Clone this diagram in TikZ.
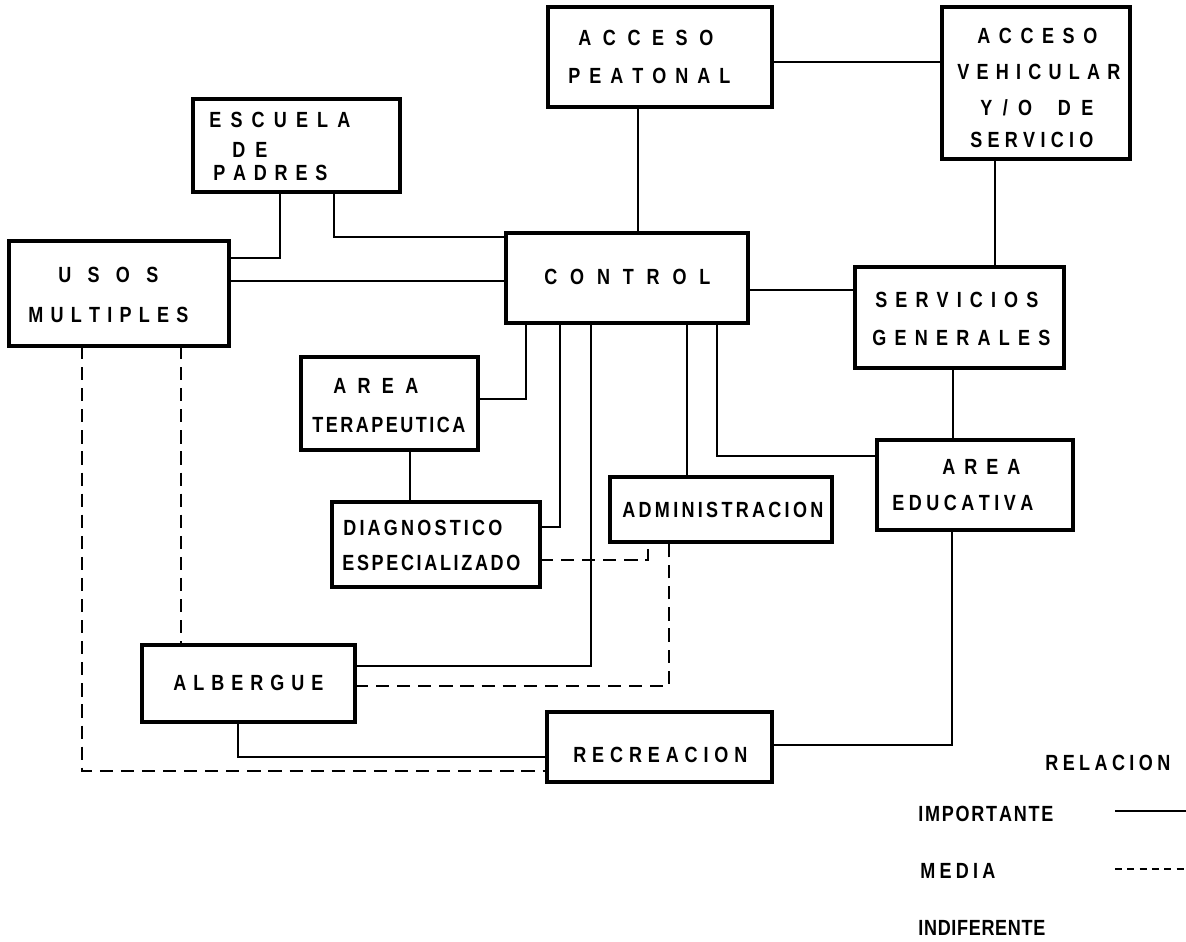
\documentclass[tikz,border=0pt]{standalone}
\usepackage{fontspec}
\newfontfamily\lblfont{Liberation Sans}[FakeStretch=0.82]
\newdimen\pxu \pxu=0.02cm
\makeatletter
\newcommand\spr[2]{\makebox[#1\pxu][s]{\@tfor\sprch:=#2\do{\sprch\hfil}\unskip}}
\makeatother
\newcommand\bx[5]{\node[box, minimum width={(#4-#2)*0.02cm}, minimum height={(#5-#3)*0.02cm}] (#1) at ({(#2+#4)/2},{(#3+#5)/2}) {};}
\tikzset{
  box/.style={draw, line width=1.8pt, inner sep=0pt, outer sep=0pt},
  lbl/.style={inner sep=0pt, anchor=west, font=\lblfont\bfseries\fontsize{12.5}{14}\selectfont},
  con/.style={line width=1.2pt},
  med/.style={line width=1.3pt, dash pattern=on 7.5pt off 4.5pt},
  legmed/.style={line width=1.3pt, dash pattern=on 4pt off 3pt}
}
\begin{document}
\begin{tikzpicture}[x=0.02cm, y=-0.02cm]
\useasboundingbox (0,0) rectangle (1186,941);
% boxes
\bx{peat}{548}{7}{772}{107}
\bx{veh}{942}{7}{1130}{159}
\bx{esc}{193}{99}{400}{192}
\bx{usos}{9}{241}{229}{346}
\bx{ctrl}{506}{233}{748}{323}
\bx{serv}{855}{267}{1064}{368}
\bx{ter}{301}{357}{478}{450}
\bx{diag}{332}{502}{540}{587}
\bx{adm}{610}{477}{832}{542}
\bx{edu}{877}{440}{1073}{530}
\bx{alb}{142}{645}{355}{722}
\bx{rec}{547}{712}{772}{782}
% texts
\node[lbl] (peat-a) at (578,38) {\spr{135}{ACCESO}};
\node[lbl] (peat-b) at (568,76) {\spr{162}{PEATONAL}};
\node[lbl] (veh-a) at (977,36) {\spr{120}{ACCESO}};
\node[lbl] (veh-b) at (957,72) {\spr{163}{VEHICULAR}};
\node[lbl] (veh-c) at (980,108) {\spr{113}{Y/O~DE}};
\node[lbl] (veh-d) at (970,140) {\spr{123}{SERVICIO}};
\node[lbl] (esc-a) at (209,120) {\spr{141}{ESCUELA}};
\node[lbl] (esc-b) at (232,150) {\spr{35}{DE}};
\node[lbl] (esc-c) at (213,173) {\spr{114}{PADRES}};
\node[lbl] (usos-a) at (58,275) {\spr{100}{USOS}};
\node[lbl] (usos-b) at (28,315) {\spr{160}{MULTIPLES}};
\node[lbl] (ctrl-a) at (544,277) {\spr{166}{CONTROL}};
\node[lbl] (serv-a) at (875,300) {\spr{163}{SERVICIOS}};
\node[lbl] (serv-b) at (872,338) {\spr{178}{GENERALES}};
\node[lbl] (ter-a) at (333,386) {\spr{85}{AREA}};
\node[lbl] (ter-b) at (312,425) {\spr{153}{TERAPEUTICA}};
\node[lbl] (diag-a) at (343,528) {\spr{159}{DIAGNOSTICO}};
\node[lbl] (diag-b) at (342,563) {\spr{178}{ESPECIALIZADO}};
\node[lbl] (adm-a) at (622,510) {\spr{201}{ADMINISTRACION}};
\node[lbl] (edu-a) at (942,467) {\spr{78}{AREA}};
\node[lbl] (edu-b) at (892,503) {\spr{141}{EDUCATIVA}};
\node[lbl] (alb-a) at (173,683) {\spr{150}{ALBERGUE}};
\node[lbl] (rec-a) at (573,755) {\spr{174}{RECREACION}};
\node[lbl] (leg-t) at (1045,763) {\spr{125}{RELACION}};
\node[lbl] (leg-i) at (918,814) {\spr{135}{IMPORTANTE}};
\node[lbl] (leg-m) at (920,871) {\spr{75}{MEDIA}};
\node[lbl] (leg-n) at (918,928) {\spr{127}{INDIFERENTE}};
% important (solid) relations
\draw[con] (peat.south -| 638,0) -- (ctrl.north -| 638,0);
\draw[con] (peat.east |- 0,62) -- (veh.west |- 0,62);
\draw[con] (veh.south -| 995,0) -- (serv.north -| 995,0);
\draw[con] (esc.south -| 280,0) |- (usos.east |- 0,258);
\draw[con] (esc.south -| 334,0) |- (ctrl.west |- 0,237);
\draw[con] (usos.east |- 0,281) -- (ctrl.west |- 0,281);
\draw[con] (ctrl.east |- 0,290) -- (serv.west |- 0,290);
\draw[con] (ctrl.south -| 526,0) |- (ter.east |- 0,399);
\draw[con] (ctrl.south -| 560,0) |- (diag.east |- 0,527);
\draw[con] (ctrl.south -| 591,0) |- (alb.east |- 0,666);
\draw[con] (ctrl.south -| 687,0) -- (adm.north -| 687,0);
\draw[con] (ctrl.south -| 717,0) |- (edu.west |- 0,456);
\draw[con] (serv.south -| 953,0) -- (edu.north -| 953,0);
\draw[con] (ter.south -| 410,0) -- (diag.north -| 410,0);
\draw[con] (alb.south -| 238,0) |- (rec.west |- 0,757);
\draw[con] (rec.east |- 0,745) -| (edu.south -| 952,0);
% medium (dashed) relations
\draw[med] (diag.east |- 0,560) -| (adm.south -| 648,0);
\draw[med] (alb.east |- 0,686) -| (adm.south -| 669,0);
\draw[med] (usos.south -| 82,0) |- (rec.west |- 0,771);
\draw[med] (usos.south -| 181,0) -- (alb.north -| 181,0);
% legend lines
\coordinate (li-a) at (1115,811);
\coordinate (li-b) at (1186,811);
\coordinate (lm-a) at (1115,869);
\coordinate (lm-b) at (1186,869);
\draw[con] (li-a) -- (li-b);
\draw[legmed] (lm-a) -- (lm-b);
\end{tikzpicture}
\end{document}
